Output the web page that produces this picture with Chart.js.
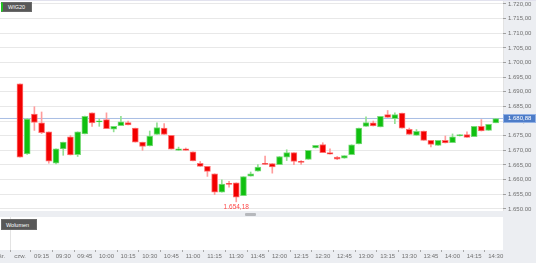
<!DOCTYPE html>
<html>
<head>
<meta charset="utf-8">
<script src="https://cdn.jsdelivr.net/npm/chart.js@4/dist/chart.umd.min.js"></script>
<style>
    html, body { margin: 0; padding: 0; }
    body {
        width: 536px; height: 263px; overflow: hidden; position: relative;
        background: #eceef2;
        font-family: "Liberation Sans", Arial, sans-serif;
    }
    #topLine { position: absolute; left: 0; top: 0; width: 536px; height: 1px; background: #e2e2ee; }
    #priceWrap { position: absolute; left: 0; top: 1px; width: 536px; height: 210px; }
    #volWrap { position: absolute; left: 0; top: 216px; width: 536px; height: 47px; }
    .tag {
        position: absolute; box-sizing: border-box;
        background: #585858; color: #fff; border: 1px solid #6a6a6a;
        font-size: 5.5px; line-height: 8px; padding-left: 4px;
    }
    #wig { left: 1px; top: 2px; width: 31px; height: 10px; border-left: 2px solid #22c422; padding-left: 5px; }
    #wol { left: 1px; top: 219px; width: 36px; height: 11px; padding-top: 1px; }
    #handle { position: absolute; left: 245px; top: 213px; width: 11px; height: 3px; background: #b6b8bc; border-radius: 1px; }
</style>
</head>
<body>
<div id="topLine"></div>
<div id="priceWrap"><canvas id="price-chart"></canvas></div>
<div id="volWrap"><canvas id="vol-chart"></canvas></div>
<div id="handle"></div>
<div class="tag" id="wig">WIG20</div>
<div class="tag" id="wol">Wolumen</div>

<script>
// Świece 5-minutowe WIG20, czwartek 09:00 - 14:30
const opens = [
    1692.7, 1668.8, 1682.4, 1679.4, 1676.3, 1665.6, 1670.5, 1674.6, 1668.5, 1675.6,
    1682.8, 1679.7, 1680.5, 1677.2, 1678.4, 1679.5, 1677.6, 1672.8, 1671.5, 1675.4,
    1677.6, 1675.1, 1670.0, 1670.5, 1669.5, 1665.6, 1664.5, 1662.0, 1655.7, 1658.5,
    1658.9, 1654.5, 1661.2, 1662.9, 1665.6, 1665.5, 1665.1, 1667.7, 1669.2, 1666.0,
    1666.9, 1670.8, 1672.0, 1669.2, 1667.7, 1667.3, 1668.5, 1672.2, 1678.2, 1679.4,
    1678.0, 1682.2, 1680.8, 1682.7, 1677.2, 1675.1, 1676.6, 1673.4, 1671.7, 1673.4,
    1672.6, 1674.9, 1675.4, 1674.7, 1678.2, 1676.8, 1679.4
];
const highs = [
    1692.7, 1680.9, 1684.9, 1683.1, 1676.3, 1670.5, 1672.8, 1675.1, 1676.3, 1681.7,
    1682.8, 1680.8, 1682.8, 1678.2, 1681.6, 1680.0, 1677.6, 1672.8, 1676.6, 1679.4,
    1679.1, 1675.1, 1671.1, 1670.8, 1669.5, 1666.2, 1664.5, 1662.0, 1659.9, 1659.4,
    1658.9, 1661.0, 1662.6, 1665.1, 1668.0, 1665.5, 1667.9, 1670.2, 1669.2, 1666.5,
    1670.0, 1671.7, 1672.6, 1670.5, 1667.9, 1668.2, 1671.9, 1677.6, 1681.4, 1680.0,
    1681.6, 1683.6, 1682.8, 1682.7, 1677.6, 1677.1, 1676.6, 1673.4, 1673.4, 1674.9,
    1675.6, 1675.4, 1676.3, 1678.2, 1680.5, 1678.9, 1680.9
];
const lows = [
    1667.7, 1668.6, 1676.8, 1675.7, 1665.6, 1665.4, 1668.3, 1668.4, 1667.9, 1675.6,
    1678.2, 1678.2, 1677.4, 1676.3, 1678.4, 1678.7, 1672.8, 1670.0, 1671.5, 1675.4,
    1675.4, 1670.4, 1670.0, 1670.0, 1666.4, 1664.5, 1661.1, 1654.9, 1655.7, 1657.4,
    1652.4, 1654.5, 1661.2, 1662.9, 1665.2, 1662.2, 1665.1, 1666.5, 1665.1, 1665.2,
    1666.9, 1670.8, 1669.2, 1668.7, 1666.8, 1667.3, 1668.5, 1672.2, 1678.2, 1678.3,
    1678.0, 1681.2, 1679.1, 1677.6, 1675.4, 1675.1, 1673.4, 1671.2, 1671.7, 1672.5,
    1672.6, 1674.9, 1674.4, 1674.7, 1676.6, 1676.8, 1679.4
];
const closes = [
    1667.7, 1680.7, 1679.5, 1676.0, 1666.3, 1670.5, 1672.8, 1668.4, 1676.3, 1681.6,
    1679.4, 1679.8, 1677.4, 1678.2, 1679.7, 1678.7, 1672.8, 1671.3, 1674.9, 1677.8,
    1675.4, 1670.4, 1670.5, 1670.0, 1666.4, 1664.5, 1662.8, 1655.7, 1658.5, 1658.4,
    1654.0, 1661.0, 1662.0, 1664.3, 1665.2, 1664.3, 1667.9, 1669.2, 1666.2, 1665.9,
    1670.0, 1671.7, 1669.2, 1668.7, 1667.0, 1668.2, 1671.9, 1677.6, 1679.5, 1678.3,
    1681.6, 1681.2, 1682.2, 1677.6, 1675.4, 1676.5, 1673.4, 1672.0, 1673.4, 1672.5,
    1674.6, 1675.4, 1674.4, 1678.2, 1676.6, 1678.9, 1680.88
];

// Etykiety osi
const dayLabels = ['śr.', 'czw.'];
const timeLabels = [
    '09:15', '09:30', '09:45', '10:00', '10:15', '10:30', '10:45', '11:00',
    '11:15', '11:30', '11:45', '12:00', '12:15', '12:30', '12:45', '13:00',
    '13:15', '13:30', '13:45', '14:00', '14:15', '14:30'
];
const priceTicks = [1650, 1655, 1660, 1665, 1670, 1675, 1680, 1685, 1690, 1695, 1700, 1705, 1710, 1715, 1720];
const lowLabel = 1654.18;

// Zakres osi
const xMin = -2.77, xMax = 67.0;
const yMin = 1649.28, yMax = 1721.0;
const candlesPerLabel = 3;

const FONT = '"Liberation Sans", Arial, sans-serif';
const lastClose = closes[closes.length - 1];

// Formatowanie liczb: 1.720,00
function fmtPrice(v) {
    const parts = v.toFixed(2).split('.');
    const intPart = parts[0].replace(/\B(?=(\d{3})+(?!\d))/g, '.');
    return intPart + ',' + parts[1];
}

const isUp = closes.map((c, i) => c >= opens[i]);
const bodyFill = isUp.map(u => u ? '#10c010' : '#f20000');
const bodyEdge = isUp.map(u => u ? '#7ada7a' : '#ff7070');
const wickColor = isUp.map(u => u ? '#92e092' : '#ff9c9c');

// Tło obszaru wykresu
const whiteArea = {
    id: 'whiteArea',
    beforeDraw(chart) {
        const { ctx, chartArea: a } = chart;
        ctx.save();
        ctx.fillStyle = '#ffffff';
        ctx.fillRect(a.left, a.top, a.right - a.left, a.bottom - a.top);
        ctx.restore();
    }
};

// Etykieta ostatniej ceny i minimum
const priceMarks = {
    id: 'priceMarks',
    afterDraw(chart) {
        const { ctx, chartArea: a } = chart;
        const xs = chart.scales.x, ys = chart.scales.y;
        ctx.save();
        const y = Math.round(ys.getPixelForValue(lastClose));
        ctx.fillStyle = '#4d7cc8';
        ctx.strokeStyle = '#93b2e6';
        ctx.lineWidth = 1;
        ctx.fillRect(a.right + 0.5, y - 4, 33, 9);
        ctx.strokeRect(a.right + 0.5, y - 3.5, 32, 8);
        ctx.fillStyle = '#ffffff';
        ctx.font = '6px ' + FONT;
        ctx.textBaseline = 'middle';
        ctx.textAlign = 'left';
        ctx.fillText(fmtPrice(lastClose), a.right + 5, y + 0.5);

        let iMin = 0;
        lows.forEach((l, i) => { if (l < lows[iMin]) iMin = i; });
        ctx.fillStyle = '#ff4646';
        ctx.font = '6.5px ' + FONT;
        ctx.textAlign = 'center';
        ctx.fillText(fmtPrice(lowLabel), xs.getPixelForValue(iMin), ys.getPixelForValue(lows[iMin]) + 5.5);
        ctx.restore();
    }
};

function drawCharts() {
    const idx = opens.map((o, i) => i);

    new Chart(document.getElementById('price-chart'), {
        type: 'bar',
        data: {
            datasets: [
                {
                    label: 'Korpus',
                    data: idx.map(i => ({ x: i, y: [opens[i], closes[i]] })),
                    backgroundColor: bodyFill,
                    borderColor: bodyEdge,
                    borderWidth: 1,
                    borderSkipped: false,
                    barThickness: 6,
                    minBarLength: 1,
                    grouped: false
                },
                {
                    label: 'Cień',
                    data: idx.map(i => ({ x: i, y: [lows[i], highs[i]] })),
                    backgroundColor: wickColor,
                    barThickness: 1,
                    grouped: false
                },
                {
                    type: 'line',
                    label: 'Kurs',
                    data: [{ x: xMin, y: lastClose }, { x: xMax, y: lastClose }],
                    borderColor: '#a8bee4',
                    borderWidth: 1,
                    pointRadius: 0
                }
            ]
        },
        options: {
            responsive: true,
            maintainAspectRatio: false,
            animation: false,
            layout: { padding: 0 },
            plugins: { legend: { display: false }, tooltip: { enabled: false } },
            scales: {
                x: {
                    type: 'linear', min: xMin, max: xMax, offset: false,
                    afterBuildTicks: s => { s.ticks = [{ value: 0 }]; },
                    afterFit: s => { s.height = 0; s.paddingLeft = 0; s.paddingRight = 0; },
                    ticks: { display: false },
                    grid: { color: '#e3e3e3', drawTicks: false },
                    border: { display: false }
                },
                y: {
                    position: 'right', min: yMin, max: yMax,
                    afterBuildTicks: s => { s.ticks = priceTicks.map(v => ({ value: v })); },
                    afterFit: s => { s.width = 33; s.paddingTop = 0; s.paddingBottom = 0; },
                    ticks: {
                        padding: 2, color: '#707070',
                        font: { size: 6, family: FONT },
                        callback: v => fmtPrice(v)
                    },
                    grid: { color: '#e8e8e8', tickColor: '#a0a0a0', tickLength: 3 },
                    border: { display: false }
                }
            }
        },
        plugins: [whiteArea, priceMarks]
    });

    // Panel wolumenu z osią czasu
    new Chart(document.getElementById('vol-chart'), {
        type: 'bar',
        data: { datasets: [{ label: 'Wolumen', data: [] }] },
        options: {
            responsive: true,
            maintainAspectRatio: false,
            animation: false,
            layout: { padding: { top: 1 } },
            plugins: { legend: { display: false }, tooltip: { enabled: false } },
            scales: {
                x: {
                    type: 'linear', min: xMin, max: xMax, offset: false,
                    afterBuildTicks: s => {
                        s.ticks = [{ value: -2.5 }, { value: 0 }]
                            .concat(timeLabels.map((t, i) => ({ value: (i + 1) * candlesPerLabel })));
                    },
                    afterFit: s => { s.height = 13; s.paddingLeft = 0; s.paddingRight = 0; },
                    ticks: {
                        autoSkip: false, maxRotation: 0, padding: 1, color: '#707070',
                        font: { size: 6, family: FONT },
                        callback: v => {
                            if (v < 0) return dayLabels[0];
                            if (v === 0) return dayLabels[1];
                            return timeLabels[v / candlesPerLabel - 1];
                        }
                    },
                    grid: {
                        color: c => (c.tick && c.tick.value === 0) ? '#e3e3e3' : 'rgba(0,0,0,0)',
                        tickColor: '#a8a8a8', tickLength: 2
                    },
                    border: { display: false }
                },
                y: {
                    position: 'right', min: 0, max: 1,
                    afterFit: s => { s.width = 33; s.paddingTop = 0; s.paddingBottom = 0; },
                    ticks: { display: false },
                    grid: { display: false },
                    border: { display: false }
                }
            }
        },
        plugins: [whiteArea]
    });
}

window.onload = drawCharts;
</script>
</body>
</html>
